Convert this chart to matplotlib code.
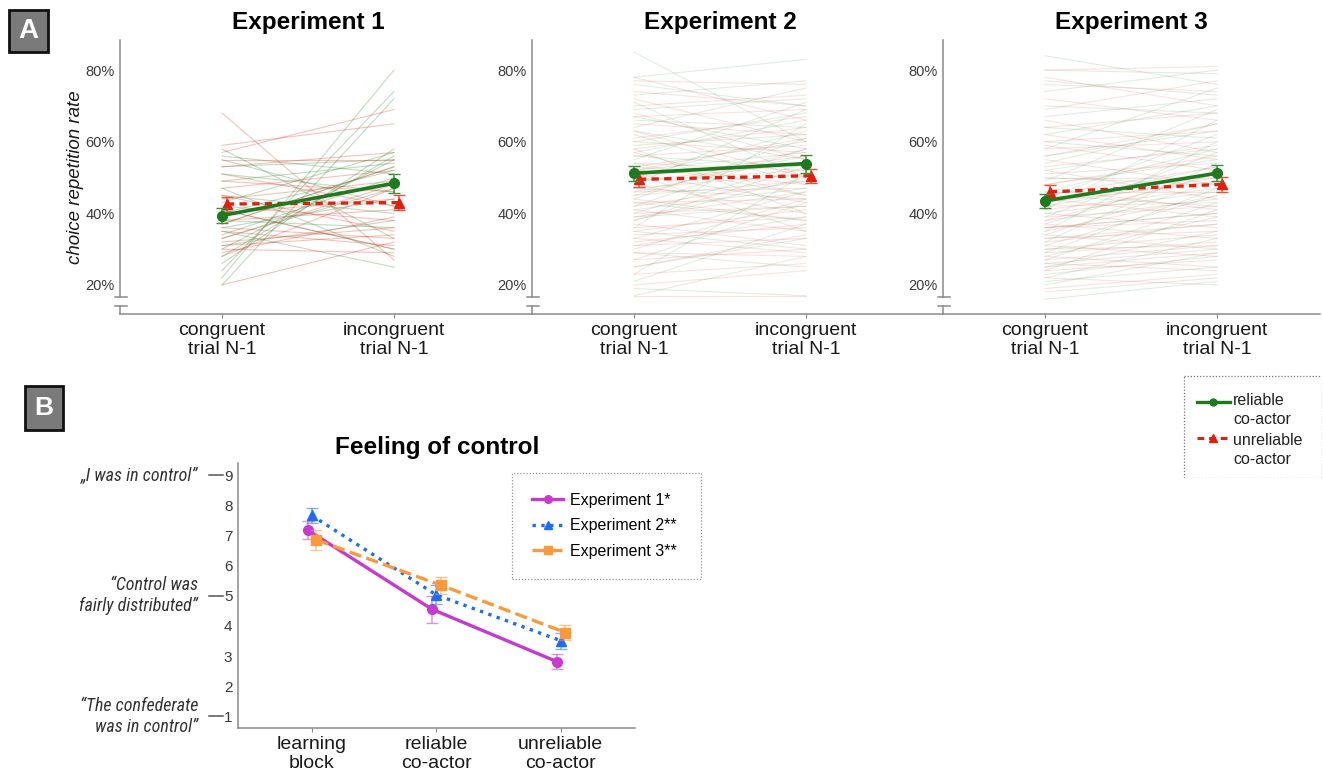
import matplotlib
matplotlib.use("Agg")
import matplotlib.pyplot as plt
import matplotlib.transforms as mtransforms
from matplotlib.lines import Line2D
from matplotlib.patches import Rectangle

W, H = 1323, 773
plt.rcParams['font.family'] = ['Liberation Sans', 'DejaVu Sans']
HUMANIST = ['Roboto Condensed', 'DejaVu Sans']

# ---------------- panel A data ----------------
conditions = ['congruent\ntrial N-1', 'incongruent\ntrial N-1']
pct_ticks = [20, 40, 60, 80]
experiments = ['Experiment 1', 'Experiment 2', 'Experiment 3']

# single participants, choice repetition rate in %
exp1_rel_con = [22, 24, 20, 26, 28, 30, 31, 33, 34, 35, 36, 37, 38, 40, 41, 43,
                45, 47, 49, 51, 53, 55, 56, 58]
exp1_rel_inc = [80, 74, 72, 58, 56, 55, 38, 47, 50, 25, 44, 53, 36, 52, 30, 57,
                40, 28, 54, 46, 55, 42, 51, 33]
exp1_unr_con = [68, 59, 57, 55, 53, 51, 49, 47, 45, 44, 42, 41, 40, 38, 37, 36,
                35, 33, 32, 31, 30, 29, 28, 20]
exp1_unr_inc = [27, 65, 69, 55, 57, 42, 46, 52, 35, 49, 38, 30, 44, 41, 53, 33,
                31, 48, 36, 34, 29, 39, 47, 32]

exp2_rel_con = [85, 78, 76, 73, 71, 69, 67, 66, 64, 63, 62, 60, 59, 58, 57, 56,
                55, 54, 53, 52, 51, 50, 49, 48, 47, 46, 45, 44, 43, 42, 41, 40,
                39, 38, 36, 35, 33, 31, 29, 27, 25, 23, 21, 19, 17]
exp2_rel_inc = [60, 83, 70, 77, 50, 72, 58, 64, 75, 55, 48, 68, 62, 40, 66, 53,
                71, 45, 60, 57, 35, 63, 52, 69, 44, 56, 49, 61, 38, 58, 47, 54,
                42, 50, 65, 30, 46, 39, 25, 43, 33, 51, 37, 17, 28]
exp2_unr_con = [78, 77, 74, 72, 70, 68, 67, 65, 63, 61, 60, 58, 57, 56, 54, 53,
                52, 51, 50, 49, 48, 47, 46, 45, 44, 43, 42, 41, 40, 39, 38, 37,
                36, 35, 34, 33, 32, 31, 30, 29, 27, 25, 23, 20, 17]
exp2_unr_inc = [66, 76, 70, 60, 73, 55, 69, 62, 50, 67, 57, 64, 45, 59, 52, 48,
                61, 43, 56, 54, 40, 51, 47, 58, 38, 44, 49, 35, 42, 46, 53, 31,
                39, 41, 36, 29, 37, 33, 44, 28, 30, 34, 26, 24, 17]

exp3_rel_con = [84, 80, 77, 74, 70, 67, 64, 62, 60, 58, 56, 54, 52, 50, 49, 48,
                46, 45, 44, 43, 42, 41, 40, 39, 38, 37, 36, 35, 34, 33, 32, 31,
                30, 29, 28, 27, 26, 25, 24, 23, 22, 21, 20, 18, 16]
exp3_rel_inc = [76, 79, 73, 80, 68, 72, 61, 70, 56, 75, 63, 65, 59, 48, 69, 55,
                58, 42, 62, 53, 50, 66, 46, 57, 44, 52, 40, 60, 49, 37, 54, 45,
                31, 47, 39, 43, 30, 35, 41, 28, 33, 25, 29, 22, 21]
exp3_unr_con = [80, 78, 76, 72, 69, 66, 64, 62, 60, 59, 58, 56, 55, 53, 52, 51,
                50, 48, 47, 46, 45, 44, 43, 42, 41, 40, 39, 38, 37, 36, 36, 35,
                34, 33, 32, 31, 30, 29, 28, 27, 26, 25, 24, 22, 19]
exp3_unr_inc = [81, 70, 74, 66, 77, 57, 68, 55, 63, 52, 60, 65, 48, 58, 44, 54,
                50, 56, 41, 46, 53, 39, 49, 43, 47, 36, 42, 51, 33, 38, 40, 45,
                30, 35, 37, 28, 34, 32, 25, 31, 24, 29, 27, 20, 23]

# group means and error bars (%)
rel_means = [[39.4, 48.4], [51.2, 53.9], [43.5, 51.2]]
rel_err = [[2.0, 2.6], [2.1, 2.5], [2.0, 2.2]]
unr_means = [[42.6, 43.0], [49.5, 50.5], [46.0, 48.1]]
unr_err = [[2.1, 2.1], [2.2, 2.0], [2.0, 2.1]]
group_labels = ['reliable\nco-actor', 'unreliable\nco-actor']

# ---------------- panel B data ----------------
blocks = ['learning\nblock', 'reliable\nco-actor', 'unreliable\nco-actor']
control_labels = ['Experiment 1*', 'Experiment 2**', 'Experiment 3**']
control_means = [[7.18, 4.55, 2.82], [7.66, 5.03, 3.51], [6.85, 5.35, 3.78]]
control_err = [[0.29, 0.44, 0.25], [0.24, 0.31, 0.26], [0.34, 0.28, 0.25]]
scale_ticks = [1, 2, 3, 4, 5, 6, 7, 8, 9]
anchor_vals = [9, 5, 1]
anchor_texts = ['\u201eI was in control\u201d', '\u201cControl was\nfairly distributed\u201d',
                '\u201cThe confederate\nwas in control\u201d']

GREEN = '#1e7a1e'
RED = '#e0200f'
AXC = '#8a8a8a'
TXT = '#3a3a3a'
EXP_COLORS = ['#c63ad0', '#1d6cf5', '#fb9a3c']
EXP_STYLES = [('-', 'o'), (':', '^'), ('--', 's')]

fig = plt.figure(figsize=(W / 100, H / 100), dpi=100)


def px_axes(left, top, right, bottom):
    return fig.add_axes([left / W, 1 - bottom / H, (right - left) / W, (bottom - top) / H])


def panel_tag(x0, y0, x1, y1, letter, size):
    fig.patches.append(Rectangle((x0 / W, 1 - y1 / H), (x1 - x0) / W, (y1 - y0) / H,
                                 transform=fig.transFigure, facecolor='#7a7a7a',
                                 edgecolor='#111111', lw=2))
    fig.text((x0 + x1) / 2 / W, 1 - (y0 + y1) / 2 / H, letter, color='white',
             fontsize=size, fontweight='bold', ha='center', va='center')


panel_tag(9, 10, 48, 52, 'A', 20)
panel_tag(25, 386, 63, 430, 'B', 19)

# ---------------- panel A ----------------
single = [
    (exp1_rel_con, exp1_rel_inc, exp1_unr_con, exp1_unr_inc),
    (exp2_rel_con, exp2_rel_inc, exp2_unr_con, exp2_unr_inc),
    (exp3_rel_con, exp3_rel_inc, exp3_unr_con, exp3_unr_inc),
]
spans = [(120, 532), (532, 943), (943, 1320)]
alphas = [0.28, 0.13, 0.13]
step = 172.0
first = 102.0

for k in range(3):
    left, right = spans[k]
    ax = px_axes(left, 40, right, 314)
    ax.patch.set_alpha(0)
    width_px = right - left
    ax.set_xlim(-first / step, (width_px - first) / step)
    ax.set_ylim(11.9, 88.4)

    rc, ri, uc, ui = single[k]
    for a, b in zip(rc, ri):
        ax.plot([0, 1], [a, b], color=GREEN, alpha=alphas[k], lw=0.8, zorder=1)
    for a, b in zip(uc, ui):
        ax.plot([0, 1], [a, b], color=RED, alpha=alphas[k], lw=0.8, zorder=1)

    ax.errorbar([0.028, 1.028], unr_means[k], yerr=unr_err[k], fmt='--^', color=RED,
                lw=2.4, ms=7, capsize=4.5, elinewidth=1.1, ecolor='#e8503f',
                dashes=(2.2, 1.6), zorder=4)
    ax.errorbar([0, 1], rel_means[k], yerr=rel_err[k], fmt='-o', color=GREEN,
                lw=2.6, ms=7, capsize=4.5, elinewidth=1.1, ecolor='#3d8f3d', zorder=5)

    for s in ['top', 'right']:
        ax.spines[s].set_visible(False)
    for s in ['left', 'bottom']:
        ax.spines[s].set_color(AXC)
        ax.spines[s].set_linewidth(1.1)
    ax.spines['left'].set_bounds(16.6, 88.4)
    trans = mtransforms.blended_transform_factory(ax.transAxes, ax.transData)
    ax.plot([0, 0], [11.9, 14.1], color=AXC, lw=1.1, transform=trans, clip_on=False)
    for yb in (16.6, 14.1):
        ax.plot([-5 / width_px, 7 / width_px], [yb, yb], color=AXC, lw=1.1,
                transform=trans, clip_on=False)

    ax.set_yticks(pct_ticks)
    ax.set_yticklabels([f'{t}%' for t in pct_ticks])
    ax.tick_params(axis='y', length=0, pad=4, labelsize=10.5, labelcolor=TXT)
    ax.set_xticks([0, 1])
    ax.set_xticklabels(conditions, linespacing=1.1)
    ax.tick_params(axis='x', length=3, color=AXC, pad=3, labelsize=14, labelcolor='#1a1a1a')

    fig.text((left + first + step / 2) / W, 1 - 22 / H, experiments[k],
             fontsize=17.5, fontweight='bold', ha='center', va='center')

    if k == 0:
        ax.set_ylabel('choice repetition rate', fontsize=13.5, style='italic',
                      color='#1a1a1a')
        ax.yaxis.set_label_coords(-36 / width_px, (314 - 177) / 274)

# legend for panel A
axl = px_axes(1183, 375, 1322, 478)
axl.set_xlim(0, 139)
axl.set_ylim(103, 0)
axl.axis('off')
axl.add_patch(Rectangle((0.5, 0.5), 138, 102, fill=False, edgecolor='#777777',
                        lw=0.9, linestyle=(0, (1, 1.5))))
axl.plot([14, 47], [27, 27], color=GREEN, lw=2.4)
axl.plot([30], [27], marker='o', color=GREEN, ms=5)
axl.plot([14, 47], [63, 63], color=RED, lw=2.2, dashes=(2.2, 1.6))
axl.plot([30], [63], marker='^', color=RED, ms=5.5)
axl.text(50, 35, group_labels[0], fontsize=11.5, ha='left', va='center',
         linespacing=1.35, color='#222222')
axl.text(50, 75, group_labels[1], fontsize=11.5, ha='left', va='center',
         linespacing=1.35, color='#222222')

# ---------------- panel B ----------------
B_L, B_T, B_R, B_B = 238, 463, 635, 728
bstep = 124.5
axb = px_axes(B_L, B_T, B_R, B_B)
axb.set_xlim(-(311.7 - B_L) / bstep, 2 + (B_R - 560.7) / bstep)
axb.set_ylim(0.616, 9.40)
offsets = [-0.033, 0.0, 0.038]
handles = []
for i in range(3):
    ls, mk = EXP_STYLES[i]
    xs = [j + offsets[i] for j in range(len(blocks))]
    eb = axb.errorbar(xs, control_means[i], yerr=control_err[i], fmt=mk, linestyle=ls,
                      color=EXP_COLORS[i], lw=2.4, ms=7, capsize=4, elinewidth=1.1,
                      ecolor=EXP_COLORS[i], zorder=3 + i)
    eb[2][0].set_alpha(0.55)
    for cap in eb[1]:
        cap.set_alpha(0.55)
    handles.append(Line2D([], [], color=EXP_COLORS[i], linestyle=ls, marker=mk,
                          lw=2.4, ms=5.5))

for s in ['top', 'right']:
    axb.spines[s].set_visible(False)
for s in ['left', 'bottom']:
    axb.spines[s].set_color(AXC)
    axb.spines[s].set_linewidth(1.1)
axb.set_yticks(scale_ticks)
axb.tick_params(axis='y', length=0, pad=4, labelsize=11, labelcolor=TXT)
axb.set_xticks(range(len(blocks)))
axb.set_xticklabels(blocks, linespacing=1.12)
axb.tick_params(axis='x', length=3, color=AXC, pad=3, labelsize=14, labelcolor='#1a1a1a')

bw = B_R - B_L
transb = mtransforms.blended_transform_factory(axb.transAxes, axb.transData)
for v, txt in zip(anchor_vals, anchor_texts):
    axb.plot([-29 / bw, -15 / bw], [v, v], color='#555555', lw=1.1,
             transform=transb, clip_on=False)
    axb.text(-40 / bw, v, txt, transform=transb, ha='right', va='center',
             fontsize=13, style='italic', color='#333333', fontfamily=HUMANIST,
             linespacing=1.2)

fig.text(437 / W, 1 - 448 / H, 'Feeling of control', fontsize=17.5,
         fontweight='bold', ha='center', va='center')

leg = axb.legend(handles, control_labels, loc='upper left', mode='expand',
                 bbox_to_anchor=(512 / W, 1 - 577 / H, 189 / W, 104 / H),
                 bbox_transform=fig.transFigure, borderaxespad=0, fancybox=False,
                 frameon=True, handlelength=1.95, handletextpad=0.4, labelspacing=0.65,
                 borderpad=1.25, prop={'size': 11.5})
leg.get_frame().set_edgecolor('#777777')
leg.get_frame().set_linewidth(0.9)
leg.get_frame().set_linestyle((0, (1, 1.5)))

fig.savefig('out.png', dpi=100)
